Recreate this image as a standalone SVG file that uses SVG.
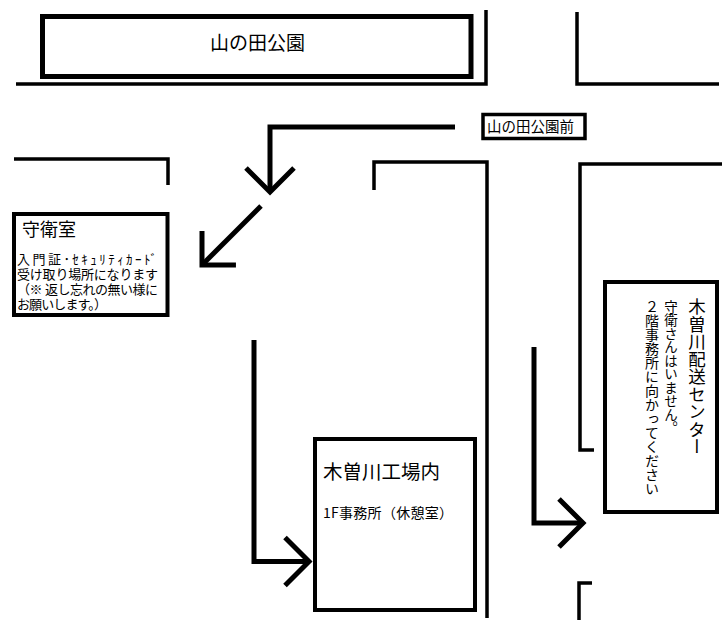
<svg xmlns="http://www.w3.org/2000/svg" width="724" height="624" viewBox="0 0 724 624">
<style>
.road{fill:none;stroke:#000;stroke-width:3.5;stroke-linecap:butt;stroke-linejoin:miter}
.arrow{fill:none;stroke:#000;stroke-width:5;stroke-linejoin:miter}
.box{fill:#fff;stroke:#000}
.t{font-family:"Noto Sans CJK JP","Noto Sans",sans-serif;fill:#000}
.s{font-family:"Liberation Sans","Noto Sans CJK JP",sans-serif;fill:#000}
.v{writing-mode:vertical-rl}
</style>
<defs>
<marker id="head" markerUnits="userSpaceOnUse" markerWidth="60" markerHeight="60" refX="0" refY="0" viewBox="-30 -30 60 60" orient="auto" overflow="visible">
<path d="M-24,-24 L0,0 L-24,24" fill="none" stroke="#000" stroke-width="5" stroke-linejoin="miter"/>
</marker>
</defs>
<rect width="724" height="624" fill="#fff"/>
<g id="roads">
<path class="road" d="M16,84 H486 V10"/>
<path class="road" d="M577,12 V84 H719"/>
<path class="road" d="M14,159 H168 V185"/>
<path class="road" d="M374,190 V162 H487 V618"/>
<path class="road" d="M722,164 H580 V450 H594"/>
<path class="road" d="M592,583 H579 V620"/>
</g>
<g id="park">
<rect x="42.5" y="16.5" width="428.5" height="60" class="box" stroke-width="5"/>
<text class="t" x="210" y="50" font-size="19">山の田公園</text>
</g>
<g id="busstop">
<rect x="483" y="114.5" width="102" height="24" class="box" stroke-width="3.5"/>
<text class="t" x="487" y="132" font-size="14.5">山の田公園前</text>
</g>
<g id="guard">
<rect x="14" y="214" width="153.5" height="101" class="box" stroke-width="4"/>
<text class="t" x="22" y="236" font-size="18">守衛室</text>
<text class="s" font-size="13">
<tspan x="17" y="264" textLength="140">入門証･ｾｷｭﾘﾃｨｶｰﾄﾞ</tspan>
<tspan x="17" y="279" textLength="141">受け取り場所になります</tspan>
<tspan x="17" y="294" textLength="141">（※ 返し忘れの無い様に</tspan>
<tspan x="17" y="309" textLength="90">お願いします。）</tspan>
</text>
</g>
<g id="factory">
<rect x="315" y="439" width="160" height="171" class="box" stroke-width="4"/>
<text class="t" x="323" y="479" font-size="19.5">木曽川工場内</text>
<text class="t" x="323" y="518" font-size="14" textLength="130">1F事務所（休憩室）</text>
</g>
<g id="delivery">
<rect x="605" y="282" width="112" height="230" class="box" stroke-width="4"/>
<text class="t v" x="697" y="298" font-size="17.5">木曽川配送センター</text>
<text class="t v" x="671" y="300" font-size="13.5">守衛さんはいません。</text>
<text class="t v" x="652" y="300" font-size="14">２階事務所に向かってください</text>
</g>
<g id="connectors">
<path class="arrow" d="M455,127 H270 V192" marker-end="url(#head)"/>
<path class="arrow" d="M261,206 L202,265" marker-end="url(#head)"/>
<path class="arrow" d="M254,340 V561.5 H309" marker-end="url(#head)"/>
<path class="arrow" d="M534,347 V523 H583" marker-end="url(#head)"/>
</g>
</svg>
